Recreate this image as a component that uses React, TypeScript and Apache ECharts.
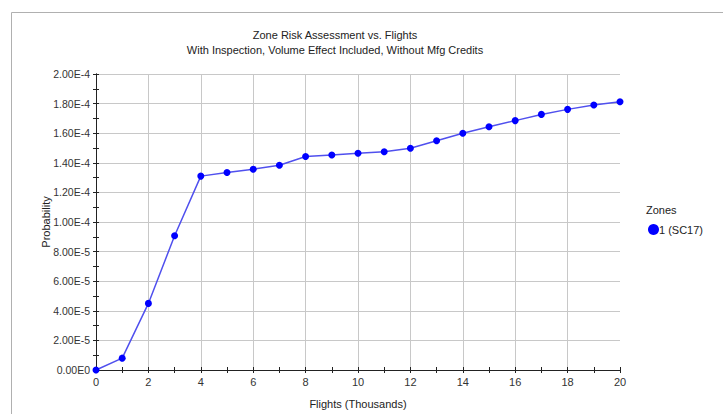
import React, { useEffect, useRef } from "react";
import * as echarts from "echarts";

const flights = [0, 1, 2, 3, 4, 5, 6, 7, 8, 9, 10, 11, 12, 13, 14, 15, 16, 17, 18, 19, 20];
const probability = [
  0, 8.0e-6, 4.5e-5, 9.07e-5, 1.31e-4, 1.334e-4, 1.357e-4, 1.383e-4, 1.442e-4, 1.453e-4,
  1.464e-4, 1.475e-4, 1.498e-4, 1.549e-4, 1.6e-4, 1.643e-4, 1.685e-4, 1.727e-4, 1.761e-4,
  1.79e-4, 1.813e-4,
];
const seriesName = "1 (SC17)";
const legendTitle = "Zones";
const titleText = "Zone Risk Assessment vs. Flights";
const subtitleText = "With Inspection, Volume Effect Included, Without Mfg Credits";
const xName = "Flights (Thousands)";
const yName = "Probability";

const FONT = "Liberation Sans";

function fmtY(v: number) {
  return v.toExponential(2).replace("e+", "E").replace("e-", "E-").toUpperCase();
}

export default function App() {
  const ref = useRef<HTMLDivElement>(null);
  useEffect(() => {
    document.body.style.margin = "0";
    const chart = echarts.init(ref.current!, null, { renderer: "svg" });
    const grid = { left: 96, right: 103, top: 74, bottom: 38 };
    const baseX = {
      type: "value" as const,
      min: 0,
      max: 20,
      interval: 2,
      axisLine: { show: true, lineStyle: { color: "#222", width: 1 } },
      minorTick: { show: true, splitNumber: 2, length: 3, lineStyle: { color: "#222" } },
      axisTick: { show: true, length: 3, lineStyle: { color: "#222" } },
    };
    const baseY = {
      type: "value" as const,
      min: 0,
      max: 2e-4,
      interval: 2e-5,
      axisLine: { show: true, lineStyle: { color: "#222", width: 1 } },
      minorTick: { show: true, splitNumber: 2, length: 3, lineStyle: { color: "#222" } },
      axisTick: { show: true, length: 3, lineStyle: { color: "#222" } },
    };
    chart.setOption({
      animation: false,
      textStyle: { fontFamily: FONT },
      title: {
        text: titleText + "\n" + subtitleText,
        left: 330,
        top: 22,
        textAlign: "center",
        textStyle: { fontSize: 11, fontWeight: "normal", color: "#222", lineHeight: 15, fontFamily: FONT },
      },
      grid,
      graphic: [
        {
          type: "rect",
          shape: { x: 11.5, y: 12.5, width: 800, height: 500 },
          style: { fill: "none", stroke: "#b0b0b0", lineWidth: 1 },
          silent: true,
        },
        {
          type: "text",
          left: 646,
          top: 204,
          style: { text: legendTitle, fontSize: 11, fill: "#222", fontFamily: FONT },
        },
      ],
      legend: {
        show: true,
        left: 643,
        top: 219,
        orient: "vertical",
        icon: "circle",
        itemWidth: 11,
        itemHeight: 11,
        itemGap: 2,
        textStyle: { fontSize: 11, color: "#222", fontFamily: FONT, padding: [0, 0, 0, -5] },
        data: [seriesName],
      },
      xAxis: [
        {
          ...baseX,
          name: xName,
          nameLocation: "middle",
          nameGap: 28,
          nameTextStyle: { fontSize: 11, color: "#222", fontFamily: FONT },
          axisLabel: { fontSize: 11, color: "#333", margin: 6, fontFamily: FONT },
          splitLine: { show: true, showMaxLine: false, lineStyle: { color: "#c8c8c8", width: 1 } },
        },
        {
          ...baseX,
          position: "bottom",
          axisTick: { ...baseX.axisTick, inside: true },
          minorTick: { ...baseX.minorTick },
          axisLabel: { show: false, inside: true },
          splitLine: { show: false },
        },
      ],
      yAxis: [
        {
          ...baseY,
          name: yName,
          nameLocation: "middle",
          nameGap: 45,
          nameMoveOverlap: false,
          nameTextStyle: { fontSize: 11, color: "#222", fontFamily: FONT },
          axisLabel: { fontSize: 10.5, color: "#333", margin: 6, formatter: fmtY, fontFamily: FONT },
          splitLine: { show: true, lineStyle: { color: "#c8c8c8", width: 1 } },
        },
        {
          ...baseY,
          position: "left",
          axisTick: { ...baseY.axisTick, inside: true },
          axisLabel: { show: false, inside: true },
          splitLine: { show: false },
        },
      ],
      series: [
        {
          name: seriesName,
          type: "line",
          data: flights.map((f, i) => [f, probability[i]]),
          symbol: "circle",
          symbolSize: 7,
          itemStyle: { color: "#0000ff" },
          lineStyle: { color: "#5050ee", width: 1.5 },
          z: 5,
        },
      ],
    });
    return () => chart.dispose();
  }, []);
  return <div ref={ref} style={{ width: 723, height: 414 }} />;
}
